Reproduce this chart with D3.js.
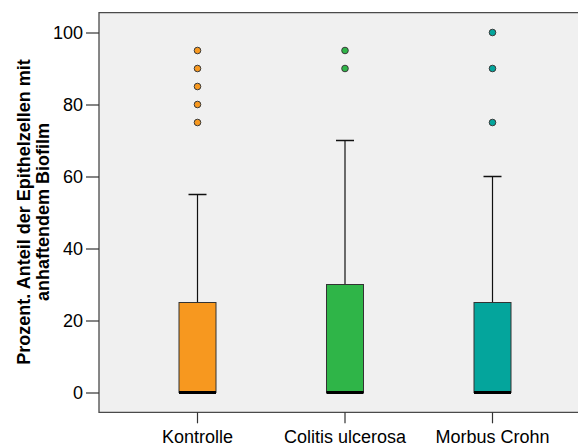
<!DOCTYPE html>
<html>
<head>
<meta charset="utf-8">
<script src="https://cdn.jsdelivr.net/npm/d3@7"></script>
<style>
  html, body { margin: 0; padding: 0; background: #ffffff; }
  svg { display: block; }
</style>
</head>
<body>
<svg id="chart" width="578" height="446"></svg>
<script>
// Gruppen und Kennwerte der Boxplots (Prozent)
const categories = ["Kontrolle", "Colitis ulcerosa", "Morbus Crohn"];
const whiskerLow = [0, 0, 0];
const q1 = [0, 0, 0];
const median = [0, 0, 0];
const q3 = [25, 30, 25];
const whiskerHigh = [55, 70, 60];
const outliers = [
  [75, 80, 85, 90, 95],
  [90, 95],
  [75, 90, 100]
];
const colors = ["#f7981f", "#2fb548", "#04a59c"];
const yTicks = [0, 20, 40, 60, 80, 100];
const yTitle = ["Prozent. Anteil der Epithelzellen mit", "anhaftendem Biofilm"];

const svg = d3.select("#chart");

const y = d3.scaleLinear().domain([0, 100]).range([392.5, 32.5]);
const x = d3.scaleBand().domain(categories).range([123.75, 566.25]);
const panelLeft = 99, panelRight = 580;
const panelTop = y(105.5), panelBottom = y(-5.5);
const boxW = 37, capW = 18;

// Plotfläche
svg.append("rect")
  .attr("x", panelLeft).attr("y", panelTop)
  .attr("width", panelRight - panelLeft).attr("height", panelBottom - panelTop)
  .attr("fill", "#f0f0f0");
svg.append("path")
  .attr("d", `M${panelRight},${panelTop}H${panelLeft}V${panelBottom}H${panelRight}`)
  .attr("fill", "none").attr("stroke", "#4a4a4a").attr("stroke-width", 1.3);

// y-Achse
const yAxis = svg.append("g")
  .attr("transform", `translate(${panelLeft},0)`)
  .call(d3.axisLeft(y).tickValues(yTicks).tickSize(13).tickPadding(3));
yAxis.select(".domain").remove();
yAxis.selectAll("line").attr("stroke", "#333").attr("stroke-width", 1.2);
yAxis.selectAll("text")
  .attr("font-family", "Arial, 'Liberation Sans', sans-serif")
  .attr("font-size", 18).attr("fill", "#000");

// x-Achse
const xAxis = svg.append("g")
  .attr("transform", `translate(0,${panelBottom})`)
  .call(d3.axisBottom(x).tickSize(11).tickPadding(7));
xAxis.select(".domain").remove();
xAxis.selectAll("line").attr("stroke", "#333").attr("stroke-width", 1.2);
xAxis.selectAll("text")
  .attr("font-family", "Arial, 'Liberation Sans', sans-serif")
  .attr("font-size", 18).attr("fill", "#000");

// Achsentitel
const title = svg.append("text")
  .attr("transform", `translate(24,212) rotate(-90)`)
  .attr("text-anchor", "middle")
  .attr("font-family", "Arial, 'Liberation Sans', sans-serif")
  .attr("font-size", 18).attr("font-weight", "bold").attr("fill", "#000");
yTitle.forEach((t, i) => {
  title.append("tspan").attr("x", 0).attr("dy", i === 0 ? "0.35em" : 19).text(t);
});

// Boxplots
const groups = svg.append("g").selectAll("g")
  .data(categories.map((c, i) => ({ c, i })))
  .join("g")
  .attr("transform", d => `translate(${x(d.c) + x.bandwidth() / 2},0)`);

// Whisker
groups.append("line")
  .attr("x1", 0).attr("x2", 0)
  .attr("y1", d => y(q3[d.i])).attr("y2", d => y(whiskerHigh[d.i]))
  .attr("stroke", "#111").attr("stroke-width", 1.2);
groups.append("line")
  .attr("x1", -capW / 2).attr("x2", capW / 2)
  .attr("y1", d => y(whiskerHigh[d.i])).attr("y2", d => y(whiskerHigh[d.i]))
  .attr("stroke", "#111").attr("stroke-width", 1.5);
groups.append("line")
  .attr("x1", 0).attr("x2", 0)
  .attr("y1", d => y(q1[d.i])).attr("y2", d => y(whiskerLow[d.i]))
  .attr("stroke", "#111").attr("stroke-width", 1.2);

// Box
groups.append("rect")
  .attr("x", -boxW / 2).attr("width", boxW)
  .attr("y", d => y(q3[d.i])).attr("height", d => y(q1[d.i]) - y(q3[d.i]))
  .attr("fill", d => colors[d.i])
  .attr("stroke", "#333").attr("stroke-width", 1);

// Median
groups.append("line")
  .attr("x1", -boxW / 2).attr("x2", boxW / 2)
  .attr("y1", d => y(median[d.i])).attr("y2", d => y(median[d.i]))
  .attr("stroke", "#000").attr("stroke-width", 3);

// Ausreißer
groups.selectAll("circle")
  .data(d => outliers[d.i].map(v => ({ v, i: d.i })))
  .join("circle")
  .attr("cx", 0).attr("cy", d => y(d.v)).attr("r", 3.3)
  .attr("fill", d => colors[d.i])
  .attr("stroke", "#3a3a3a").attr("stroke-width", 1);
</script>
</body>
</html>
